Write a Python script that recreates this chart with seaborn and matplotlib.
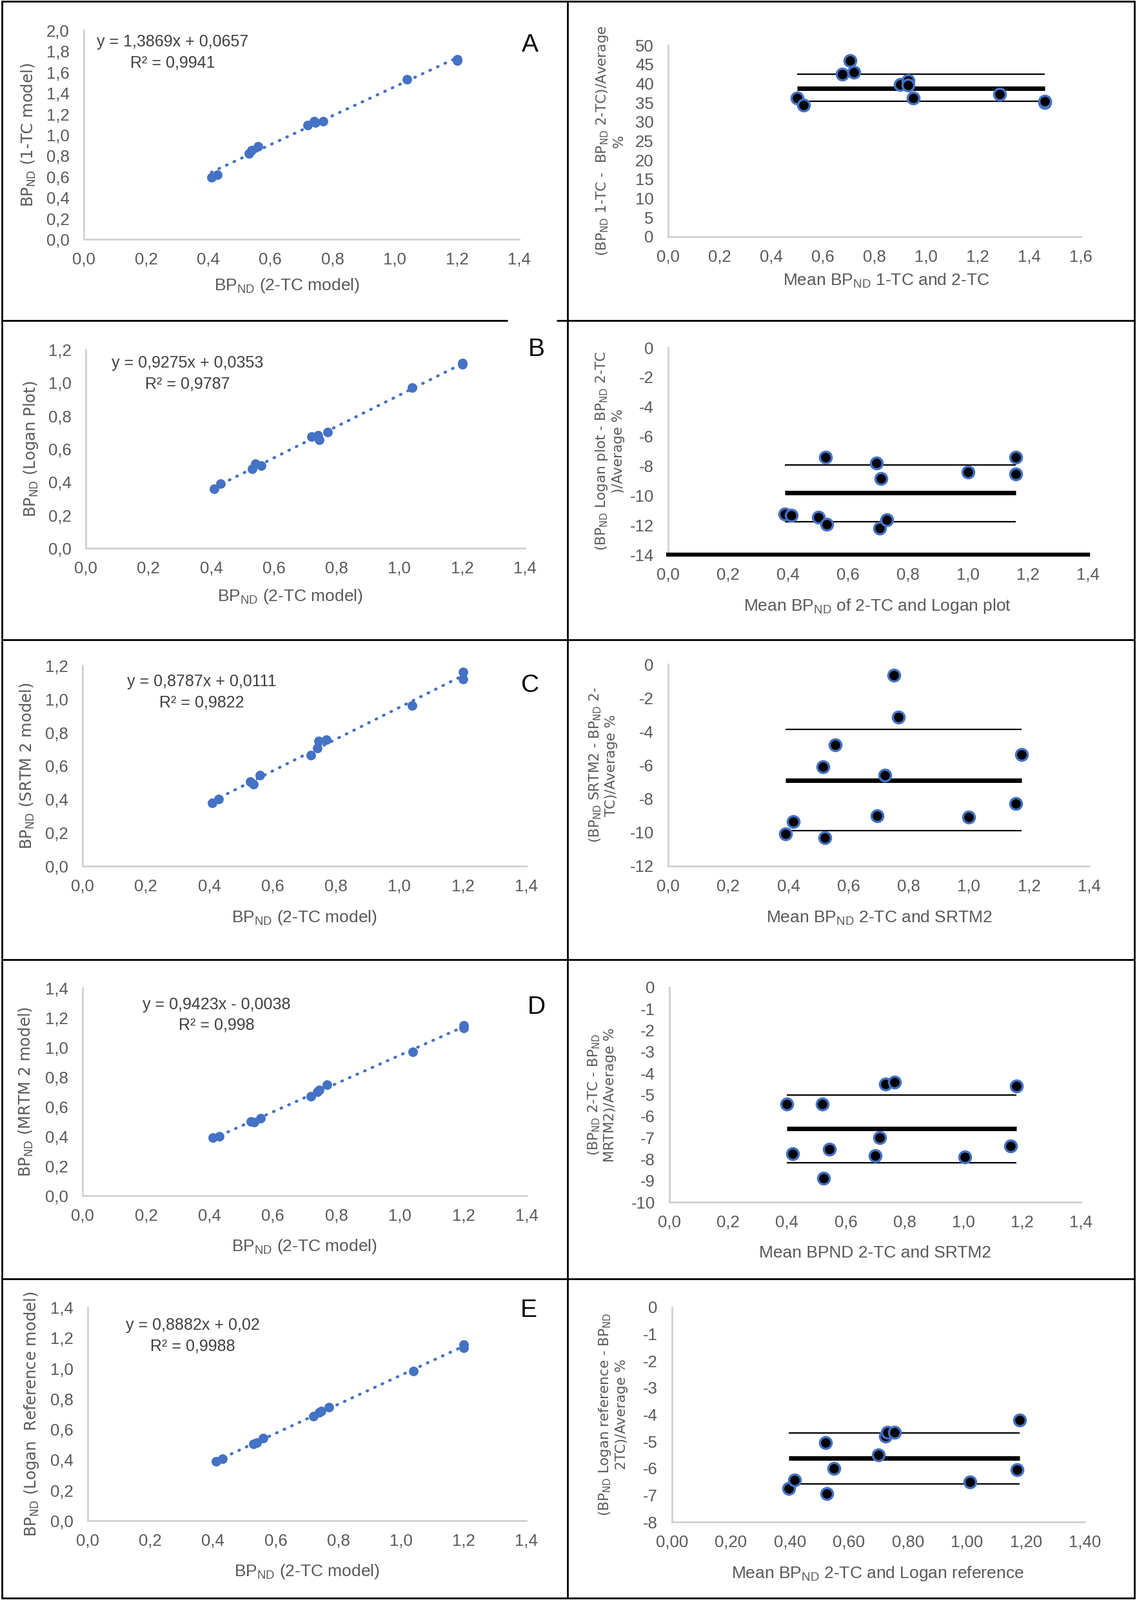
import matplotlib
matplotlib.use("Agg")
import matplotlib.pyplot as plt
import seaborn as sns
from matplotlib.lines import Line2D
from matplotlib.ticker import FuncFormatter, MultipleLocator

sns.set_style("white")
plt.rcParams["font.family"] = ["DejaVu Sans"]
NARROW = ["Liberation Sans Narrow", "Liberation Sans"]

# --- data ----------------------------------------------------------------
# BPND from the 2-TC model (x of every left panel), 12 subjects
bp_2tc = [0.41, 0.43, 0.53, 0.54, 0.56, 0.72, 0.74, 0.745, 0.77, 1.04, 1.20, 1.20]
bp_1tc = [0.59, 0.62, 0.82, 0.85, 0.89, 1.09, 1.13, 1.12, 1.13, 1.53, 1.72, 1.71]
bp_logan = [0.36, 0.39, 0.48, 0.51, 0.50, 0.675, 0.68, 0.655, 0.70, 0.97, 1.12, 1.11]
bp_srtm2 = [0.38, 0.40, 0.505, 0.49, 0.545, 0.665, 0.705, 0.75, 0.755, 0.96, 1.12, 1.16]
bp_mrtm2 = [0.39, 0.40, 0.50, 0.495, 0.52, 0.67, 0.70, 0.715, 0.75, 0.97, 1.13, 1.15]
bp_logan_ref = [0.39, 0.405, 0.505, 0.51, 0.54, 0.685, 0.71, 0.72, 0.745, 0.98, 1.135, 1.155]

# Bland-Altman panels: mean BPND, % difference, and (upper, mean, lower) lines
ba1_mean = [0.50, 0.525, 0.675, 0.705, 0.72, 0.90, 0.93, 0.93, 0.95, 1.285, 1.46, 1.46]
ba1_diff = [36.2, 34.4, 42.5, 45.9, 42.9, 39.8, 40.8, 39.6, 36.2, 37.2, 35.0, 35.3]
ba1_lines = [42.5, 38.8, 35.3]
ba1_span = [0.50, 1.46]

ba2_mean = [0.39, 0.41, 0.50, 0.525, 0.53, 0.695, 0.705, 0.71, 0.73, 1.00, 1.16, 1.16]
ba2_diff = [-11.25, -11.35, -11.45, -7.4, -11.95, -7.8, -12.2, -8.85, -11.65, -8.4, -7.4, -8.55]
ba2_lines = [-7.93, -9.83, -11.78]
ba2_span = [0.39, 1.16]

ba3_mean = [0.39, 0.415, 0.515, 0.52, 0.555, 0.695, 0.72, 0.75, 0.765, 1.00, 1.155, 1.175]
ba3_diff = [-10.1, -9.35, -6.1, -10.3, -4.8, -9.0, -6.6, -0.65, -3.15, -9.1, -8.3, -5.35]
ba3_lines = [-3.87, -6.90, -9.90]
ba3_span = [0.39, 1.175]

ba4_mean = [0.40, 0.42, 0.52, 0.525, 0.545, 0.70, 0.715, 0.735, 0.765, 1.005, 1.16, 1.18]
ba4_diff = [-5.45, -7.75, -5.45, -8.9, -7.55, -7.85, -7.0, -4.5, -4.4, -7.9, -7.4, -4.6]
ba4_lines = [-5.03, -6.58, -8.16]
ba4_span = [0.40, 1.18]

ba5_mean = [0.395, 0.415, 0.52, 0.525, 0.55, 0.70, 0.725, 0.73, 0.755, 1.01, 1.17, 1.18]
ba5_diff = [-6.75, -6.45, -5.05, -6.95, -6.0, -5.5, -4.8, -4.65, -4.65, -6.5, -6.05, -4.2]
ba5_lines = [-4.68, -5.62, -6.58]
ba5_span = [0.395, 1.18]

W, H = 1763, 2481
fig = plt.figure(figsize=(W / 100, H / 100), dpi=100)
BLUE = "#4472C4"
GREY_TXT = "#595959"
AXIS = "#D0D0D0"


def add_ax(box):
    l, t, r, b = box
    return fig.add_axes([l / W, 1 - b / H, (r - l) / W, (b - t) / H])


def comma(fmt):
    return FuncFormatter(lambda v, _: format(v, fmt).replace(".", ",").replace("-0,0", "0,0"))


def style(ax, box, xlim, xstep, xfmt, ylim, ystep, yfmt, xlabel, xlab_pos, ylabel, ylab_x, ylab_size):
    l, t, r, b = box
    ax.set_xlim(*xlim)
    ax.set_ylim(*ylim)
    ax.xaxis.set_major_locator(MultipleLocator(xstep))
    ax.yaxis.set_major_locator(MultipleLocator(ystep))
    ax.xaxis.set_major_formatter(comma(xfmt))
    if yfmt == "int":
        ax.yaxis.set_major_formatter(FuncFormatter(lambda v, _: str(int(round(v)))))
    else:
        ax.yaxis.set_major_formatter(comma(yfmt))
    for s in ["top", "right"]:
        ax.spines[s].set_visible(False)
    for s in ["left", "bottom"]:
        ax.spines[s].set_color(AXIS)
        ax.spines[s].set_linewidth(2)
    ax.tick_params(length=0, labelsize=18.5, labelcolor=GREY_TXT)
    ax.tick_params(axis="x", pad=14)
    ax.tick_params(axis="y", pad=16)
    for lab in ax.get_xticklabels() + ax.get_yticklabels():
        lab.set_family(NARROW)
    ax.set_xlabel(xlabel, fontsize=19, color=GREY_TXT, family=NARROW, va="center")
    ax.xaxis.set_label_coords((xlab_pos[0] - l) / (r - l), -(xlab_pos[1] - b) / (b - t))
    ax.set_ylabel(ylabel, fontsize=ylab_size, color=GREY_TXT, va="center", ha="center", linespacing=1.2)
    ax.yaxis.set_label_coords((ylab_x - l) / (r - l), 0.5)


def fig_text(x, y, s, **kw):
    fig.text(x / W, 1 - y / H, s, **kw)


BP = r"BP$_{\mathregular{ND}}$"

# --- left column: correlation plots --------------------------------------
left_panels = [
    (bp_1tc, (130, 47, 805, 371), (0, 2.0), 0.2, BP + " (1-TC model)", (445, 443), 44,
     "y = 1,3869x + 0,0657", "R² = 0,9941", (268, 65), (268, 98), "A", (822, 70)),
    (bp_logan, (133, 542, 814, 850), (0, 1.2), 0.2, BP + " (Logan Plot)", (450, 925), 48,
     "y = 0,9275x + 0,0353", "R² = 0,9787", (291, 563), (291, 596), "B", (832, 542)),
    (bp_srtm2, (128, 1032, 816, 1343), (0, 1.2), 0.2, BP + " (SRTM 2 model)", (472, 1423), 42,
     "y = 0,8787x + 0,0111", "R² = 0,9822", (313, 1057), (313, 1090), "C", (822, 1063)),
    (bp_mrtm2, (128, 1532, 817, 1854), (0, 1.4), 0.2, BP + " (MRTM 2 model)", (472, 1933), 40,
     "y = 0,9423x - 0,0038", "R² = 0,998", (336, 1558), (336, 1590), "D", (832, 1562)),
    (bp_logan_ref, (136, 2027, 816, 2358), (0, 1.4), 0.2, BP + " (Logan  Reference model)", (476, 2437), 49,
     "y = 0,8882x + 0,02", "R² = 0,9988", (299, 2055), (299, 2087), "E", (820, 2032)),
]

for (yv, box, ylim, ystep, ylab, xlab_pos, ylab_x, eq, r2, eq_pos, r2_pos, letter, let_pos) in left_panels:
    ax = add_ax(box)
    sns.regplot(x=bp_2tc, y=yv, ax=ax, ci=None, color=BLUE,
                scatter_kws={"s": 115, "alpha": 1, "linewidths": 0, "zorder": 3},
                line_kws={"ls": (0, (0.3, 2.6)), "lw": 3.2, "dash_capstyle": "round", "zorder": 2})
    style(ax, box, (0, 1.4), 0.2, ".1f", ylim, ystep, ".1f",
          BP + " (2-TC model)", xlab_pos, ylab, ylab_x, 17.5)
    fig_text(*eq_pos, eq, fontsize=18, color="#404040", family=NARROW, ha="center", va="center")
    fig_text(*r2_pos, r2, fontsize=18, color="#404040", family=NARROW, ha="center", va="center")
    fig_text(*let_pos, letter, fontsize=28, color="black", family=NARROW, ha="center", va="center")

# --- right column: Bland-Altman plots ------------------------------------
right_panels = [
    (ba1_mean, ba1_diff, ba1_lines, ba1_span, (1036, 70, 1676, 367), (0, 1.6), ".1f", (0, 50), 5,
     "Mean " + BP + " 1-TC and 2-TC", (1374, 435),
     "(" + BP + " 1-TC -  " + BP + " 2-TC)/Average\n%", 946),
    (ba2_mean, ba2_diff, ba2_lines, ba2_span, (1036, 539, 1687, 860), (0, 1.4), ".1f", (-14, 0), 2,
     "Mean " + BP + " of 2-TC and Logan plot", (1361, 940),
     "(" + BP + " Logan plot - " + BP + " 2-TC\n)/Average %", 945),
    (ba3_mean, ba3_diff, ba3_lines, ba3_span, (1036, 1030, 1689, 1343), (0, 1.4), ".1f", (-12, 0), 2,
     "Mean " + BP + " 2-TC and SRTM2", (1363, 1423),
     "(" + BP + " SRTM2 - " + BP + " 2-\nTC)/Average %", 935),
    (ba4_mean, ba4_diff, ba4_lines, ba4_span, (1038, 1531, 1676, 1864), (0, 1.4), ".1f", (-10, 0), 1,
     "Mean BPND 2-TC and SRTM2", (1357, 1943),
     "(" + BP + " 2-TC - " + BP + "\nMRTM2)/Average %", 933),
    (ba5_mean, ba5_diff, ba5_lines, ba5_span, (1042, 2027, 1682, 2360), (0, 1.4), ".2f", (-8, 0), 1,
     "Mean " + BP + " 2-TC and Logan reference", (1361, 2440),
     "(" + BP + " Logan reference - " + BP + "\n2TC)/Average %", 950),
]

for i, (mx, dy, lines, span, box, xlim, xfmt, ylim, ystep, xlab, xlab_pos, ylab, ylab_x) in enumerate(right_panels):
    ax = add_ax(box)
    upper, mean, lower = lines
    ax.hlines([upper, lower], span[0], span[1], color="black", lw=1.6, zorder=2)
    ax.hlines(mean, span[0], span[1], color="black", lw=5, zorder=2)
    sns.scatterplot(x=mx, y=dy, ax=ax, color="black", edgecolor=BLUE, linewidth=2.5,
                    s=170, zorder=3, legend=False)
    style(ax, box, xlim, 0.2, xfmt, ylim, ystep, "int", xlab, xlab_pos, ylab, ylab_x, 15.5)
    if i == 1:
        ax.spines["bottom"].set_color("black")
        ax.spines["bottom"].set_linewidth(4.5)

# --- panel borders -------------------------------------------------------
row_y = [2, 497, 992, 1488, 1983, 2478]
col_x = [3, 880, 1759]


def seg(x0, y0, x1, y1):
    fig.add_artist(Line2D([x0 / W, x1 / W], [1 - y0 / H, 1 - y1 / H], color="black", lw=2))


for k, y in enumerate(row_y):
    if k == 1:
        seg(col_x[0], y, 786, y)
        seg(864, y, col_x[2], y)
    else:
        seg(col_x[0], y, col_x[2], y)
for x in col_x:
    seg(x, row_y[0], x, row_y[-1])

fig.savefig("out.png", dpi=100, facecolor="white")
